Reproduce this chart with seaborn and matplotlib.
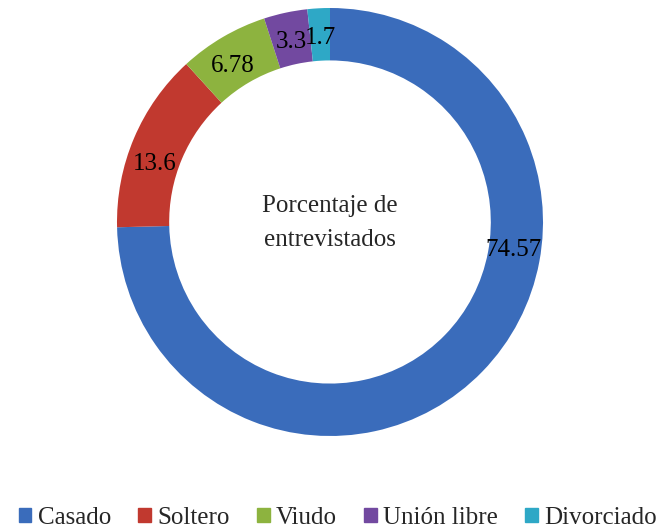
import matplotlib
matplotlib.use("Agg")
import matplotlib.pyplot as plt
import seaborn as sns
import numpy as np

# datos
categorias = ['Casado', 'Soltero', 'Viudo', 'Unión libre', 'Divorciado']
valores = [74.57, 13.6, 6.78, 3.3, 1.7]
etiquetas = ['74.57', '13.6', '6.78', '3.3', '1.7']
colores = ['#3a6cbb', '#c1392f', '#8db33f', '#7249a0', '#2ea8c6']

sns.set_theme(style="white")
plt.rcParams['font.family'] = ['Liberation Serif', 'DejaVu Serif']

fig = plt.figure(figsize=(6.6, 5.29), dpi=100)
ax = fig.add_axes([117 / 660, 93 / 529, 426 / 660, 428 / 529])

ancho = 0.245
wedges, _ = ax.pie(valores, colors=colores, startangle=90, counterclock=False,
                   radius=1, wedgeprops=dict(width=ancho, linewidth=0),
                   normalize=True)

# etiquetas en el anillo (algunas movidas a mano en el original)
angulos_movidos = {0: -8, 1: 161, 2: 121.6}
r_lab = 0.87
for i, w in enumerate(wedges):
    ang = angulos_movidos.get(i, (w.theta1 + w.theta2) / 2)
    x = r_lab * np.cos(np.deg2rad(ang))
    y = r_lab * np.sin(np.deg2rad(ang)) - 0.01
    ax.text(x, y, etiquetas[i], ha='center', va='center', fontsize=18, color='black')

ax.text(0, -0.003, 'Porcentaje de\nentrevistados', ha='center', va='center',
        fontsize=18, linespacing=1.7)

ax.set_xlim(-1, 1)
ax.set_ylim(-1, 1)
ax.set_aspect('auto')
ax.axis('off')

handles = [plt.Rectangle((0, 0), 1, 1, color=c) for c in colores]
fig.legend(handles, categorias, loc='center', bbox_to_anchor=(0.512, 11 / 529),
           ncol=5, frameon=False, fontsize=18, handlelength=0.5, handleheight=0.5,
           handletextpad=0.25, columnspacing=1.1, borderaxespad=0)

plt.savefig('out.png', dpi=100)
